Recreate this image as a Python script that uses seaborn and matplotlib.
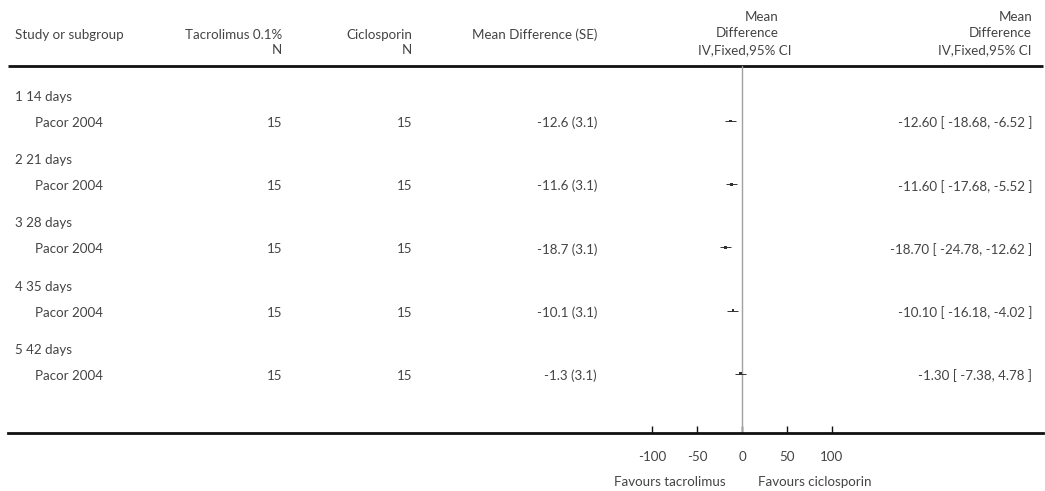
#! /usr/bin/env python3
# -*- coding: utf-8 -*-

import matplotlib
matplotlib.use('Agg')
import matplotlib.pyplot as plt
import seaborn as sns
import pandas as pd
import numpy as np

###DATA###
groups = ['1 14 days', '2 21 days', '3 28 days', '4 35 days', '5 42 days']
studies = ['Pacor 2004', 'Pacor 2004', 'Pacor 2004', 'Pacor 2004', 'Pacor 2004']
n_tacrolimus = [15, 15, 15, 15, 15]
n_ciclosporin = [15, 15, 15, 15, 15]
mean_diff = [-12.6, -11.6, -18.7, -10.1, -1.3]
se = [3.1, 3.1, 3.1, 3.1, 3.1]
ci_low = [-18.68, -17.68, -24.78, -16.18, -7.38]
ci_high = [-6.52, -5.52, -12.62, -4.02, 4.78]
x_ticks = [-100, -50, 0, 50, 100]
favours_left = 'Favours tacrolimus'
favours_right = 'Favours ciclosporin'

###STYLE###
sns.set_theme(style='white')
plt.rcParams['font.family'] = ['Lato', 'DejaVu Sans']
fs = 9.6
tc = '#444444'

W, H = 1045, 491
fig = plt.figure(figsize=(W/100, H/100), dpi=100)

#text layer in pixel coords
ax_t = fig.add_axes([0, 0, 1, 1])
ax_t.set_xlim(0, W)
ax_t.set_ylim(H, 0)
ax_t.axis('off')

#forest layer: 0 at px 742, 0.9 px per unit
top_px, bot_px, left_px, right_px = 66, 433, 8, 1043
zero_px, scale = 742, 0.9
ax = fig.add_axes([left_px/W, 1-bot_px/H, (right_px-left_px)/W, (bot_px-top_px)/H])
ax.patch.set_alpha(0)
ax.set_xlim((left_px-zero_px)/scale, (right_px-zero_px)/scale)
ax.set_ylim(bot_px, top_px)

df = pd.DataFrame({'group': groups, 'study': studies, 'md': mean_diff, 'se': se,
                   'lo': ci_low, 'hi': ci_high, 'n1': n_tacrolimus, 'n2': n_ciclosporin})
df['y_group'] = 97 + 63.2*np.arange(len(df))
df['y_study'] = df['y_group'] + 26

#zero line
ax.axvline(0, color='#a0a0a0', lw=1.0, zorder=1)
#CI lines and markers
ax.hlines(df['y_study']-2, df['lo'], df['hi'], color='#333333', lw=0.7, zorder=3)
sns.scatterplot(x='md', y=df['y_study']-2, data=df, marker='s', s=4, color='#333333',
                edgecolor='none', ax=ax, zorder=4, legend=False)
ax.set_xlabel('')
ax.set_ylabel('')

#axis
for s in ['top', 'left', 'right']:
    ax.spines[s].set_visible(False)
ax.spines['bottom'].set_linewidth(2.0)
ax.spines['bottom'].set_color('#111111')
ax.set_xticks(x_ticks)
ax.set_xticklabels([str(t) if t >= 0 else '-'+str(abs(t)) for t in x_ticks])
ax.tick_params(axis='x', direction='in', length=5, width=1, color='#111111',
               pad=13, labelsize=fs, labelcolor=tc, bottom=True)
ax.set_yticks([])

#header line
ax_t.plot([left_px, right_px], [top_px, top_px], color='#111111', lw=2.0, solid_capstyle='butt')

#headers
kw = dict(fontsize=fs, color=tc, va='center')
ax_t.text(15, 35, 'Study or subgroup', ha='left', **kw)
ax_t.text(282, 35, 'Tacrolimus 0.1%', ha='right', **kw)
ax_t.text(282, 50, 'N', ha='right', **kw)
ax_t.text(412, 35, 'Ciclosporin', ha='right', **kw)
ax_t.text(412, 50, 'N', ha='right', **kw)
ax_t.text(597, 35, 'Mean Difference (SE)', ha='right', **kw)
ax_t.text(779, 17, 'Mean', ha='right', **kw)
ax_t.text(779, 33, 'Difference', ha='right', **kw)
ax_t.text(745, 50, 'IV,Fixed,95% CI', ha='center', **kw)
ax_t.text(1032, 17, 'Mean', ha='right', **kw)
ax_t.text(1032, 33, 'Difference', ha='right', **kw)
ax_t.text(1032, 50, 'IV,Fixed,95% CI', ha='right', **kw)

#rows
for i, r in df.iterrows():
    ax_t.text(15, r['y_group'], r['group'], ha='left', **kw)
    ax_t.text(35, r['y_study'], r['study'], ha='left', **kw)
    ax_t.text(282, r['y_study'], str(r['n1']), ha='right', **kw)
    ax_t.text(412, r['y_study'], str(r['n2']), ha='right', **kw)
    ax_t.text(597, r['y_study'], '%.1f (%.1f)' % (r['md'], r['se']), ha='right', **kw)
    ax_t.text(1032, r['y_study'], '%.2f [ %.2f, %.2f ]' % (r['md'], r['lo'], r['hi']), ha='right', **kw)

#favours labels
ax_t.text(670, 482, favours_left, ha='center', **kw)
ax_t.text(815, 482, favours_right, ha='center', **kw)

fig.savefig('out.png', dpi=100)
plt.close()
